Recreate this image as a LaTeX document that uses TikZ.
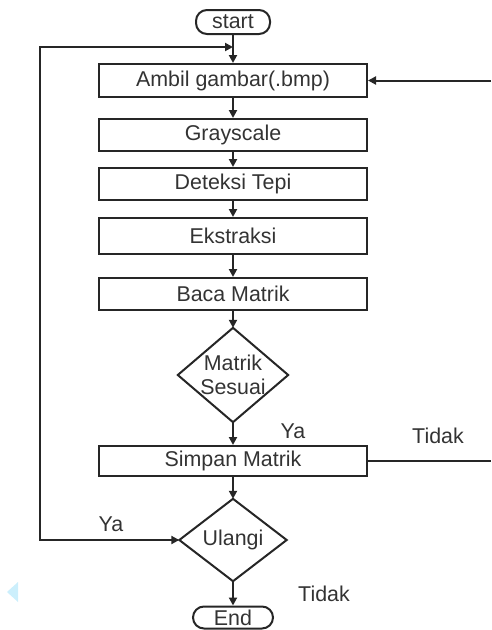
\documentclass[tikz,border=0pt]{standalone}
\usepackage{fontspec}
\setmainfont{Liberation Sans}
\usetikzlibrary{arrows.meta}
\begin{document}
\begin{tikzpicture}[x=1pt,y=-1pt,
  font=\fontsize{21.4}{24}\selectfont,
  txt/.style={text=black!80},
  line/.style={line width=2pt, draw=black!85},
  arr/.style={line, -{Triangle[length=8pt,width=8pt]}},
  darr/.style={line, {Triangle[length=8pt,width=8pt]}-{Triangle[length=8pt,width=8pt]}},
  procbox/.style={draw=black!85, line width=2pt, minimum width=268pt, inner sep=0pt, txt},
  term/.style={draw=black!85, line width=2pt, rounded corners=11pt, inner sep=0pt, txt},
  diabox/.style={inner sep=0pt},
  lbl/.style={txt, inner sep=0pt}]
\useasboundingbox (0,0) rectangle (491,630);

% terminals
\node[term, minimum width=74pt, minimum height=24pt] (start) at (233,22) {start};
\node[term, minimum width=80pt, minimum height=22pt] (end) at (233,617.5) {End};

% process boxes
\node[procbox, minimum height=33pt] (ambil) at (233,80.5) {Ambil gambar(.bmp)};
\node[procbox, minimum height=32pt] (gray) at (233,135) {Grayscale};
\node[procbox, minimum height=32pt] (tepi) at (233,184) {Deteksi Tepi};
\node[procbox, minimum height=36pt] (ekst) at (233,236) {Ekstraksi};
\node[procbox, minimum height=32pt] (baca) at (233,294) {Baca Matrik};
\node[procbox, minimum height=30pt] (simpan) at (233,461) {Simpan Matrik};

% decisions
\node[diabox, minimum width=110pt, minimum height=94pt] (sesuai) at (233,375) {};
\draw[line] (sesuai.north) -- (sesuai.east) -- (sesuai.south) -- (sesuai.west) -- cycle;
\node[txt, align=center, inner sep=0pt] (sesuaiT) at (233,375) {Matrik\\Sesuai};

\node[diabox, minimum width=107pt, minimum height=82pt] (ulangi) at (233,540) {};
\draw[line] (ulangi.north) -- (ulangi.east) -- (ulangi.south) -- (ulangi.west) -- cycle;
\node[txt, inner sep=0pt] (ulangiT) at (233,540) {Ulangi};

% helper coordinates
\coordinate (loopT) at (233,47);
\coordinate (rightIn) at (491,80.5);
\coordinate (rightOut) at (491,461);

% connectors
\draw[arr] (start) -- (ambil);
\draw[arr] (ambil) -- (gray);
\draw[arr] (gray) -- (tepi);
\draw[arr] (tepi) -- (ekst);
\draw[arr] (ekst) -- (baca);
\draw[arr] (baca) -- (sesuai.north);
\draw[arr] (sesuai.south) -- (simpan);
\draw[arr] (simpan) -- (ulangi.north);
\draw[arr] (ulangi.south) -- (end);
\draw[arr] (rightIn) -- (ambil.east);
\draw[line] (simpan.east) -- (rightOut);
\draw[darr] (ulangi.west) -- (40,540) |- (loopT);

% labels
\node[lbl] (ya1) at (293,431) {Ya};
\node[lbl] (tidak1) at (438,436) {Tidak};
\node[lbl] (ya2) at (111,524) {Ya};
\node[lbl] (tidak2) at (324,594) {Tidak};

% small light-blue marker
\fill[cyan!20] (7,592) -- (18,582) -- (18,602) -- cycle;
\end{tikzpicture}
\end{document}
